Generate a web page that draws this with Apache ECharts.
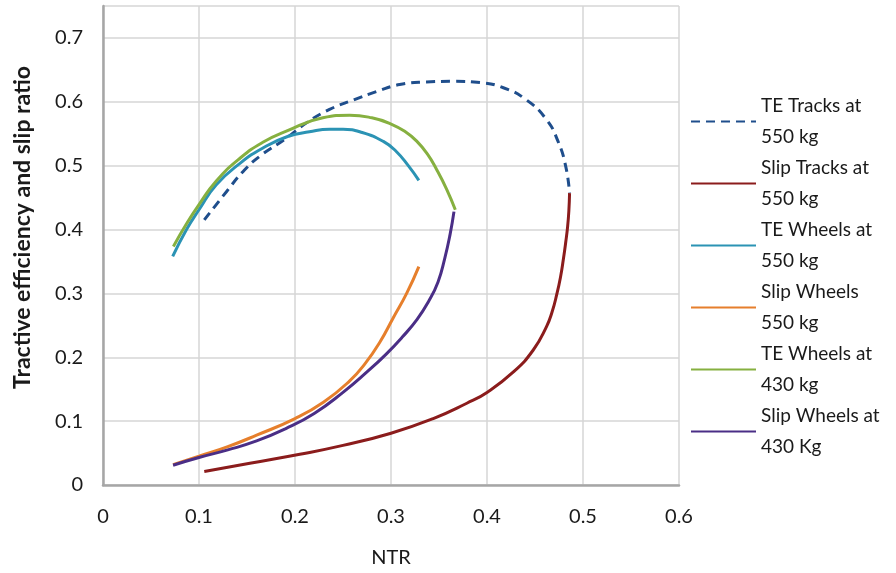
<!DOCTYPE html>
<html>
<head>
<meta charset="utf-8">
<script src="https://cdn.jsdelivr.net/npm/echarts@6/dist/echarts.min.js"></script>
<style>
  html, body { margin: 0; padding: 0; background: #fff; }
  #chart { width: 896px; height: 573px; }
</style>
</head>
<body>
<div id="chart"></div>
<script>
// NTR on x, tractive efficiency / slip ratio on y
const teTracks550 = [[0.1055,0.415],[0.129,0.46],[0.146,0.491],[0.1635,0.515],[0.191,0.543],[0.212,0.567],[0.236,0.588],[0.261,0.603],[0.285,0.616],[0.309,0.627],[0.337,0.631],[0.365,0.632],[0.393,0.63],[0.417,0.622],[0.441,0.603],[0.462,0.572],[0.474,0.538],[0.482,0.499],[0.486,0.457]];
const slipTracks550 = [[0.1055,0.021],[0.153,0.034],[0.205,0.048],[0.25,0.062],[0.30,0.081],[0.344,0.104],[0.379,0.128],[0.40,0.145],[0.4275,0.177],[0.448,0.211],[0.462,0.248],[0.468,0.272],[0.4726,0.298],[0.4765,0.325],[0.4795,0.353],[0.482,0.38],[0.484,0.405],[0.4853,0.43],[0.486,0.457]];
const teWheels550 = [[0.0726,0.358],[0.087,0.40],[0.1,0.431],[0.118,0.470],[0.143,0.504],[0.167,0.528],[0.193,0.546],[0.215,0.553],[0.236,0.557],[0.25,0.557],[0.27,0.552],[0.292,0.538],[0.305,0.523],[0.318,0.500],[0.329,0.477]];
const slipWheels550 = [[0.073,0.032],[0.1,0.045],[0.13,0.06],[0.16,0.078],[0.2,0.104],[0.23,0.13],[0.257,0.163],[0.273,0.19],[0.2885,0.224],[0.3024,0.262],[0.3163,0.30],[0.329,0.342]];
const teWheels430 = [[0.0733,0.3735],[0.087,0.409],[0.1,0.439],[0.118,0.476],[0.143,0.512],[0.167,0.537],[0.191,0.554],[0.229,0.575],[0.257,0.579],[0.28,0.575],[0.299,0.566],[0.315,0.553],[0.327,0.538],[0.338,0.518],[0.3475,0.494],[0.358,0.463],[0.367,0.431]];
const slipWheels430 = [[0.073,0.031],[0.1,0.043],[0.13,0.055],[0.16,0.069],[0.19,0.088],[0.22,0.112],[0.25,0.145],[0.275,0.177],[0.295,0.205],[0.312,0.232],[0.327,0.259],[0.339,0.287],[0.349,0.318],[0.356,0.355],[0.3615,0.392],[0.3656,0.428]];

const seriesNames = ['TE Tracks at 550 kg', 'Slip Tracks at 550 kg', 'TE Wheels at 550 kg', 'Slip Wheels 550 kg', 'TE Wheels at 430 kg', 'Slip Wheels at 430 Kg'];
const legendLines = [['TE Tracks at', '550 kg'], ['Slip Tracks at', '550 kg'], ['TE Wheels at', '550 kg'], ['Slip Wheels', '550 kg'], ['TE Wheels at', '430 kg'], ['Slip Wheels at', '430 Kg']];
const seriesData = [teTracks550, slipTracks550, teWheels550, slipWheels550, teWheels430, slipWheels430];
const colors = ['#1f4e8c', '#8b1c1c', '#2b93b4', '#e67f2c', '#86b040', '#4a2e86'];

const font = 'Lato';
const chart = echarts.init(document.getElementById('chart'));

chart.setOption({
  animation: false,
  grid: { left: 103, right: 217, top: 6, bottom: 88, containLabel: false, outerBoundsMode: 'none' },
  legend: {
    orient: 'vertical',
    left: 685,
    top: 70,
    itemWidth: 65,
    itemHeight: 14,
    itemGap: -31,
    data: seriesNames,
    itemStyle: { opacity: 0 },
    formatter: name => legendLines[seriesNames.indexOf(name)].join('\n'),
    textStyle: { fontFamily: font, fontSize: 19, color: '#1a1a1a', lineHeight: 31, padding: [31, 0, 0, 0] }
  },
  xAxis: {
    type: 'value',
    min: 0, max: 0.6, interval: 0.1,
    name: 'NTR',
    nameLocation: 'middle',
    nameGap: 63,
    nameTextStyle: { fontFamily: font, fontSize: 20, color: '#1a1a1a' },
    axisLine: { show: true, lineStyle: { color: '#a6a6a6', width: 2.5 } },
    axisTick: { show: false },
    axisLabel: { margin: 22, fontFamily: font, fontSize: 20, color: '#1a1a1a' },
    splitLine: { show: true, lineStyle: { color: '#d6d6d6', width: 1.5 } }
  },
  yAxis: {
    type: 'value',
    min: 0, max: 0.75, interval: 0.1,
    name: 'Tractive efficiency and slip ratio',
    nameLocation: 'middle',
    nameGap: 69,
    nameTextStyle: { fontFamily: font, fontSize: 23, fontWeight: 'bold', color: '#1a1a1a', padding: [0, 0, 0, 36] },
    axisLine: { show: true, lineStyle: { color: '#a6a6a6', width: 2.5 } },
    axisTick: { show: false },
    axisLabel: { margin: 20, fontFamily: font, fontSize: 20, color: '#1a1a1a', showMaxLabel: false },
    splitLine: { show: true, lineStyle: { color: '#d6d6d6', width: 1.5 } }
  },
  series: seriesNames.map((name, i) => ({
    name: name,
    type: 'line',
    data: seriesData[i],
    smooth: true,
    symbol: 'none',
    color: colors[i],
    lineStyle: { color: colors[i], width: 3, type: i === 0 ? [9, 6] : 'solid' }
  }))
});
</script>
</body>
</html>
